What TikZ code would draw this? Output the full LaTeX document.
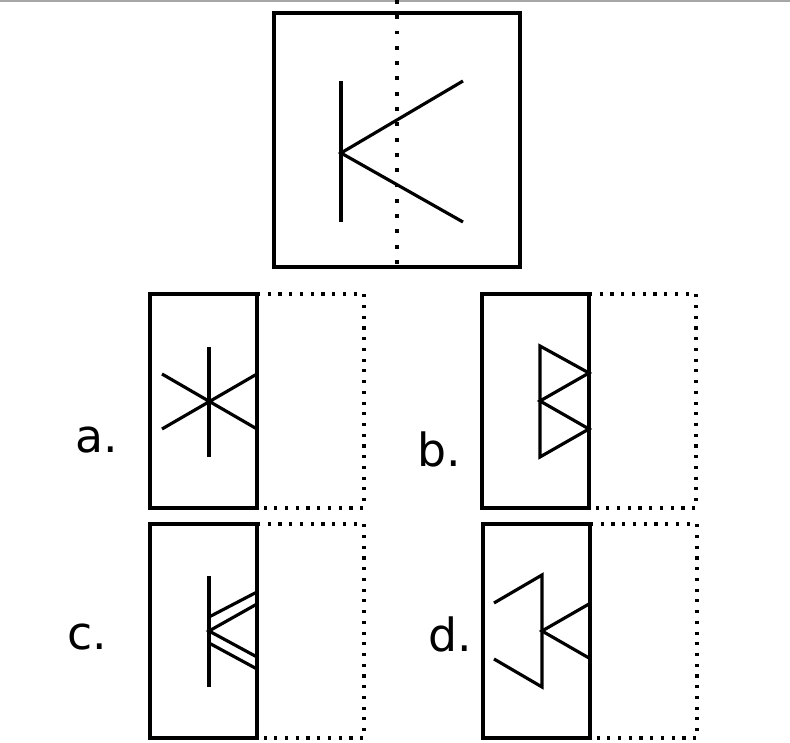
\documentclass[tikz,border=0pt]{standalone}
\usepackage{fontspec}
\setmainfont{DejaVu Sans}
\usetikzlibrary{positioning}
\tikzset{
  boxline/.style={line width=1.1pt},
  figline/.style={line width=0.9pt},
  dots/.style={line width=0.95pt,dash pattern=on 0.9pt off 2.15pt},
  foldline/.style={line width=1.2pt,dash pattern=on 1.1pt off 3.25pt},
  optlabel/.style={anchor=base west,inner sep=0pt,font=\fontsize{13}{16}\selectfont}
}
\begin{document}
\begin{tikzpicture}[x=0.01cm,y=-0.01cm]
\useasboundingbox (0,0) rectangle (790,743);
\draw[gray!70,line width=0.3pt] (0,1)--(790,1);
% the figure to be folded
\draw[boxline] (274,13) rectangle (520,267);
\draw[foldline] (397,0)--(397,267);
\draw[figline] (341,81)--(341,222);
\draw[figline] (463,81)--(341,153)--(463,222);
% answer panels: solid half and dotted half
\foreach \x/\y/\name/\lx/\ly in {150/294/a/75/453,482/294/b/417/467,150/524/c/67/650,483/524/d/428/652}{
\begin{scope}[shift={(\x,\y)}]
\draw[boxline] (0,0) rectangle (107,214);
\draw[dots] (107,0)--(214,0)--(214,214)--(107,214);
\end{scope}
\node[optlabel] (lab\name) at (\lx,\ly) {\name.};}
% a.
\begin{scope}[shift={(150,294)}]
\draw[figline] (59,53)--(59,163);
\draw[figline] (12,80)--(107,135) (12,135)--(107,80);
\end{scope}
% b.
\begin{scope}[shift={(482,294)}]
\draw[figline,line join=miter] (107,79)--(58,52)--(58,163)--(107,135)--(58,107)--cycle;
\end{scope}
% c.
\begin{scope}[shift={(150,524)}]
\draw[figline] (59,52)--(59,163);
\draw[figline] (107,80)--(59,107)--(107,133);
\draw[figline] (59,93)--(107,68) (59,119)--(107,145);
\end{scope}
% d.
\begin{scope}[shift={(483,524)}]
\draw[figline] (11,79)--(59,51)--(59,163)--(11,135);
\draw[figline] (106,80)--(59,107)--(106,134);
\end{scope}
\end{tikzpicture}
\end{document}
